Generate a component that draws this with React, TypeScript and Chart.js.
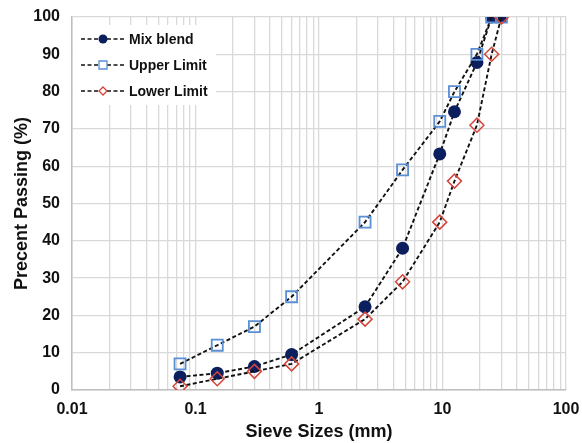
import React, { useEffect, useRef } from 'react';
import { Chart, registerables } from 'chart.js';
Chart.register(...registerables);

const sieveSizes = [0.075, 0.15, 0.3, 0.6, 2.36, 4.75, 9.5, 12.5, 19, 25, 30];
const mixBlend = [3.5, 4.5, 6.3, 9.5, 22.3, 38, 63.3, 74.6, 87.8, 100, 100];
const upperLimit = [7, 12, 17, 25, 45, 59, 72, 80, 90, 100, 100];
const lowerLimit = [1, 3, 5, 7, 19, 29, 45, 56, 71, 90, 100];
const decadeLabels = ['0.01', '0.1', '1', '10', '100'];
const seriesNames = ['Mix blend', 'Upper Limit', 'Lower Limit'];

const FONT = '"Liberation Sans", Arial, sans-serif';
const NAVY = '#0b1f5e';
const BLUE = '#5b8fd3';
const RED = '#d4463b';

function xGridValues(): number[] {
  const vals: number[] = [];
  for (let e = -2; e < 2; e++) {
    for (let m = 1; m <= 9; m++) vals.push(parseFloat((m * Math.pow(10, e)).toPrecision(3)));
  }
  vals.push(100);
  return vals;
}

function drawMarker(ctx: CanvasRenderingContext2D, kind: number, x: number, y: number, s: number) {
  ctx.save();
  ctx.setLineDash([]);
  ctx.beginPath();
  if (kind === 0) {
    ctx.fillStyle = NAVY;
    ctx.arc(x, y, s, 0, Math.PI * 2);
    ctx.fill();
  } else if (kind === 1) {
    ctx.fillStyle = '#fff';
    ctx.strokeStyle = BLUE;
    ctx.lineWidth = 1.3;
    ctx.rect(x - s, y - s, 2 * s, 2 * s);
    ctx.fill();
    ctx.stroke();
  } else {
    ctx.fillStyle = '#fff';
    ctx.strokeStyle = RED;
    ctx.lineWidth = 1.3;
    ctx.moveTo(x, y - s);
    ctx.lineTo(x + s, y);
    ctx.lineTo(x, y + s);
    ctx.lineTo(x - s, y);
    ctx.closePath();
    ctx.fill();
    ctx.stroke();
  }
  ctx.restore();
}

const insideLegend = {
  id: 'insideLegend',
  beforeDatasetsDraw(chart: any) {
    const { ctx, chartArea } = chart;
    const left = chartArea.left;
    const top = chartArea.top;
    ctx.save();
    ctx.fillStyle = '#fff';
    ctx.fillRect(left + 1, top + 8, 143, 80);
    seriesNames.forEach((name, i) => {
      const y = top + 22 + i * 26;
      ctx.beginPath();
      ctx.strokeStyle = '#111';
      ctx.lineWidth = 1.6;
      ctx.setLineDash([4, 2.5]);
      ctx.moveTo(left + 9, y);
      ctx.lineTo(left + 53, y);
      ctx.stroke();
      drawMarker(ctx, i, left + 31, y, i === 0 ? 4.5 : 4);
      ctx.fillStyle = '#111';
      ctx.font = `bold 14px ${FONT}`;
      ctx.textBaseline = 'middle';
      ctx.textAlign = 'left';
      ctx.fillText(name, left + 57, y + 1);
    });
    ctx.restore();
  },
};

export default function App() {
  const ref = useRef<HTMLCanvasElement | null>(null);
  useEffect(() => {
    if (!ref.current) return;
    const mk = (vals: number[]) => sieveSizes.map((x, i) => ({ x, y: vals[i] }));
    const common = {
      borderColor: '#111',
      borderWidth: 1.9,
      borderDash: [4, 2.5],
      showLine: true,
      tension: 0,
      fill: false,
    };
    const chart = new Chart(ref.current, {
      type: 'scatter',
      data: {
        datasets: [
          {
            ...common,
            label: seriesNames[0],
            data: mk(mixBlend),
            pointStyle: 'circle',
            pointRadius: 6.5,
            pointBackgroundColor: NAVY,
            pointBorderColor: NAVY,
            pointBorderWidth: 0,
            order: 3,
          },
          {
            ...common,
            label: seriesNames[1],
            data: mk(upperLimit),
            pointStyle: 'rect',
            pointRadius: 7.8,
            pointBackgroundColor: 'rgba(255,255,255,0)',
            pointBorderColor: BLUE,
            pointBorderWidth: 1.8,
            order: 2,
          },
          {
            ...common,
            label: seriesNames[2],
            data: mk(lowerLimit),
            pointStyle: 'rectRot',
            pointRadius: 7,
            pointBackgroundColor: 'rgba(255,255,255,0)',
            pointBorderColor: RED,
            pointBorderWidth: 1.5,
            order: 1,
          },
        ] as any,
      },
      options: {
        animation: false,
        responsive: true,
        maintainAspectRatio: false,
        layout: { padding: { top: 17, right: 16, left: 0, bottom: 0 } },
        plugins: { legend: { display: false }, tooltip: { enabled: false } },
        scales: {
          x: {
            type: 'logarithmic',
            min: 0.01,
            max: 100,
            afterBuildTicks: (axis: any) => {
              axis.ticks = xGridValues().map((v) => ({ value: v }));
            },
            afterFit: (axis: any) => {
              axis.height = 53;
              axis.paddingLeft = 0;
              axis.paddingRight = 0;
            },
            ticks: {
              autoSkip: false,
              maxRotation: 0,
              color: '#111',
              padding: 10,
              font: { family: FONT, size: 16, weight: 'bold' },
              callback: (v: any) => {
                const e = Math.log10(Number(v));
                if (Math.abs(e - Math.round(e)) < 1e-9) return decadeLabels[Math.round(e) + 2];
                return '';
              },
            },
            grid: {
              color: '#d9d9d9',
              lineWidth: 1.3,
              drawTicks: false,
            },
            border: { color: '#bfbfbf', width: 1.5 },
            title: {
              display: true,
              text: 'Sieve Sizes (mm)',
              color: '#111',
              font: { family: FONT, size: 18, weight: 'bold' },
              padding: { top: 0, bottom: 0 },
            },
          },
          y: {
            min: 0,
            max: 100,
            afterFit: (axis: any) => {
              axis.width = 72;
              axis.paddingTop = 0;
              axis.paddingBottom = 0;
            },
            ticks: {
              stepSize: 10,
              color: '#111',
              padding: 12,
              font: { family: FONT, size: 16, weight: 'bold' },
            },
            grid: { color: '#d9d9d9', lineWidth: 1.3, drawTicks: false },
            border: { color: '#bfbfbf', width: 1.5 },
            title: {
              display: true,
              text: 'Precent Passing (%)',
              color: '#111',
              font: { family: FONT, size: 18, weight: 'bold' },
              padding: { top: 11, bottom: 0 },
            },
          },
        },
      } as any,
      plugins: [insideLegend],
    });
    return () => chart.destroy();
  }, []);
  return (
    <div style={{ position: 'fixed', left: 0, top: 0, width: 582, height: 443, background: '#fff' }}>
      <canvas ref={ref} />
    </div>
  );
}
